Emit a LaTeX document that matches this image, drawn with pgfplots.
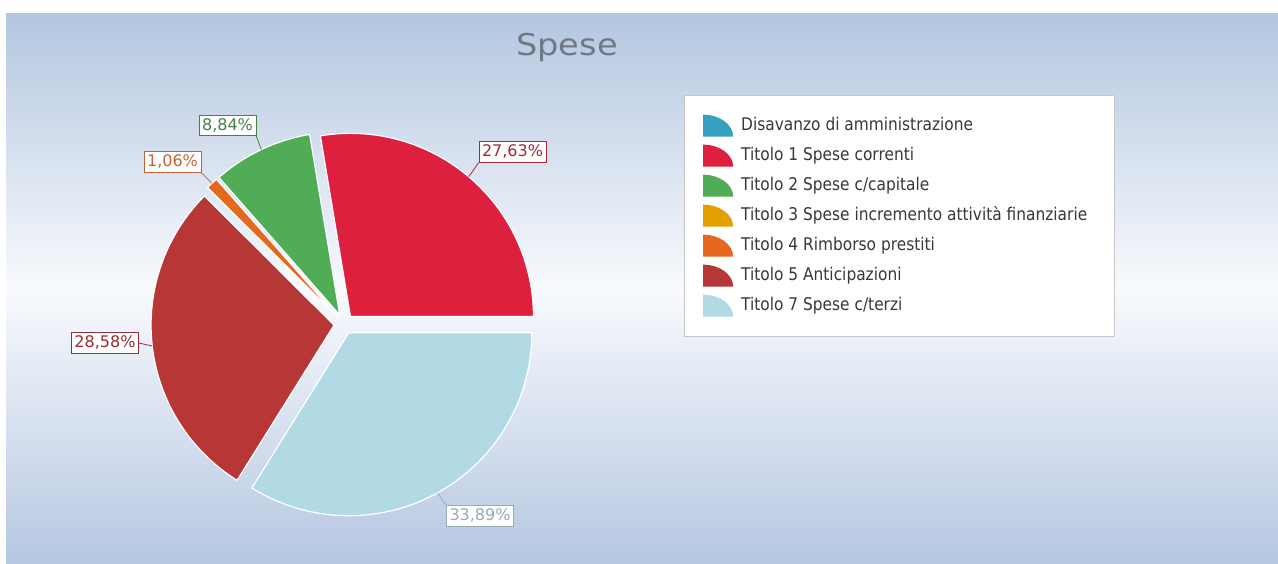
\documentclass[border=0pt]{standalone}
\usepackage{pgfplots}
\pgfplotsset{compat=1.18}
\usepackage{fontspec}
\setmainfont{DejaVu Sans}
\newfontfamily\legfont[FakeStretch=0.88]{DejaVu Sans}
\newfontfamily\titfont[FakeStretch=1.12]{DejaVu Sans}
\definecolor{c0}{RGB}{54,160,192}
\definecolor{c1}{RGB}{220,32,62}
\definecolor{c2}{RGB}{80,172,85}
\definecolor{c3}{RGB}{228,160,0}
\definecolor{c4}{RGB}{230,104,30}
\definecolor{c5}{RGB}{183,55,55}
\definecolor{c7}{RGB}{178,218,228}
\definecolor{l1}{RGB}{165,40,62}
\definecolor{l2}{RGB}{70,130,70}
\definecolor{l4}{RGB}{195,100,55}
\definecolor{l5}{RGB}{150,45,52}
\definecolor{l7}{RGB}{150,172,182}
\definecolor{bgtop}{RGB}{180,198,224}
\definecolor{bgbot}{RGB}{182,199,225}
\definecolor{bgmid}{RGB}{248,250,253}
\definecolor{titgray}{RGB}{112,120,132}
% slice: colour, start (%), share (%)
\newcommand{\slice}[3]{%
  \addplot[fill=#1, draw=white, line width=1.2pt, domain={3.6*#2}:{3.6*(#2+#3)}, samples=90, forget plot]
  ({344+10*cos(1.8*(2*#2+#3))+183*cos(x)}, {239+10*sin(1.8*(2*#2+#3))+183*sin(x)})
  -- (axis cs:{344+10*cos(1.8*(2*#2+#3))},{239+10*sin(1.8*(2*#2+#3))}) -- cycle;}
% label: colour, start, share, x, y, anchor, text
\newcommand{\plabel}[7]{%
  \node[lbl, draw=#1, text=#1] (n) at (axis cs:#4,#5) {#7};
  \draw[#1, line width=0.8pt] (axis cs:{344+193*cos(1.8*(2*#2+#3))},{239+193*sin(1.8*(2*#2+#3))}) -- (n.#6);}
\begin{document}
\begin{tikzpicture}[lbl/.style={fill=white, font=\fontsize{16}{18}\selectfont, inner xsep=3pt, inner ysep=3pt, text height=12pt, text depth=2.5pt, line width=0.8pt}]
\useasboundingbox (-6pt,0pt) rectangle (1272pt,563pt);
\begin{axis}[
  scale only axis, width=1272pt, height=549pt,
  xmin=6, xmax=1278, ymin=0, ymax=549,
  axis line style={draw=none}, xtick=\empty, ytick=\empty,
  axis background/.style={shade, top color=bgtop, bottom color=bgbot, middle color=bgmid},
  clip=false,
  legend image code/.code={\path[#1] (0pt,-11pt) -- (0pt,11pt) arc[start angle=90,end angle=0,x radius=30pt,y radius=22pt] -- cycle;},
  legend style={at={(axis description cs:0.5330,0.8525)}, anchor=north west, draw=black!22, fill=white,
    inner xsep=19pt, inner ysep=15.5pt, row sep=0pt,
    font=\legfont\fontsize{17.5}{20}\selectfont, text=black!78,
    cells={anchor=west},
    nodes={inner xsep=8pt, inner ysep=6.5pt, text height=13pt, text depth=4pt}},
  legend cell align=left,
]
\slice{c1}{0}{27.63}
\slice{c2}{27.63}{8.84}
\slice{c4}{36.47}{1.06}
\slice{c5}{37.53}{28.58}
\slice{c7}{66.11}{33.89}

\addlegendimage{fill=c0, draw=none}\addlegendentry{Disavanzo di amministrazione}
\addlegendimage{fill=c1, draw=none}\addlegendentry{Titolo 1 Spese correnti}
\addlegendimage{fill=c2, draw=none}\addlegendentry{Titolo 2 Spese c/capitale}
\addlegendimage{fill=c3, draw=none}\addlegendentry{Titolo 3 Spese incremento attività finanziarie}
\addlegendimage{fill=c4, draw=none}\addlegendentry{Titolo 4 Rimborso prestiti}
\addlegendimage{fill=c5, draw=none}\addlegendentry{Titolo 5 Anticipazioni}
\addlegendimage{fill=c7, draw=none}\addlegendentry{Titolo 7 Spese c/terzi}

\plabel{l1}{0}{27.63}{512.5}{411}{south west}{27,63\%}
\plabel{l2}{27.63}{8.84}{227.5}{437.5}{south east}{8,84\%}
\plabel{l4}{36.47}{1.06}{172.5}{401}{south east}{1,06\%}
\plabel{l5}{37.53}{28.58}{105}{220}{east}{28,58\%}
\plabel{l7}{66.11}{33.89}{480}{47}{north west}{33,89\%}

\node[font=\titfont\fontsize{30}{32}\selectfont, text=titgray, anchor=base] at (axis cs:567,507) {Spese};
\end{axis}
\end{tikzpicture}
\end{document}
